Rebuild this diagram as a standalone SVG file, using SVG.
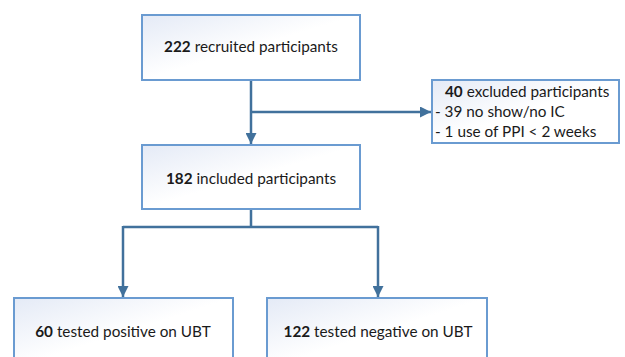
<svg xmlns="http://www.w3.org/2000/svg" width="625" height="357" viewBox="0 0 625 357">
<defs>
<linearGradient id="g" x1="0" y1="0" x2="1" y2="1">
<stop offset="0" stop-color="#e4eaf6"/>
<stop offset="0.5" stop-color="#ffffff"/>
<stop offset="1" stop-color="#ffffff"/>
</linearGradient>
<marker id="ah" viewBox="0 0 10 10" refX="10" refY="5" markerWidth="4.4" markerHeight="4.4" markerUnits="strokeWidth" orient="auto">
<path d="M0,0 L10,5 L0,10 Z" fill="#41719c"/>
</marker>
<style>
.box{fill:url(#g);stroke:#6a9bd1;stroke-width:2}
.t{font-family:Lato,"Liberation Sans",sans-serif;font-size:15.3px;fill:#1a1a1a}
.b{font-weight:bold}
.c{fill:none;stroke:#41719c;stroke-width:2.5}
</style>
</defs>
<rect width="625" height="357" fill="#ffffff"/>
<g id="connectors">
<path class="c" d="M251,80 V144" marker-end="url(#ah)"/>
<path class="c" d="M251,112 H431" marker-end="url(#ah)"/>
<path class="c" d="M251,209 V227 M123,227 H378"/>
<path class="c" d="M123,226 V297" marker-end="url(#ah)"/>
<path class="c" d="M378,226 V297" marker-end="url(#ah)"/>
</g>
<g id="recruited">
<rect class="box" x="142" y="15" width="218" height="65"/>
<text class="t" x="251" y="52" text-anchor="middle"><tspan class="b">222</tspan> recruited participants</text>
</g>
<g id="excluded">
<rect class="box" x="432" y="80" width="187" height="63"/>
<text class="t" x="445" y="97"><tspan class="b">40</tspan> excluded participants</text>
<text class="t" x="435" y="117">- 39 no show/no IC</text>
<text class="t" x="435" y="137">- 1 use of PPI &lt; 2 weeks</text>
</g>
<g id="included">
<rect class="box" x="142" y="145" width="218" height="64"/>
<text class="t" x="251" y="184" text-anchor="middle"><tspan class="b">182</tspan> included participants</text>
</g>
<g id="positive">
<rect class="box" x="14" y="298" width="219" height="70"/>
<text class="t" x="123" y="337" text-anchor="middle"><tspan class="b">60</tspan> tested positive on UBT</text>
</g>
<g id="negative">
<rect class="box" x="267" y="298" width="220" height="70"/>
<text class="t" x="378" y="337" text-anchor="middle"><tspan class="b">122</tspan> tested negative on UBT</text>
</g>
</svg>
